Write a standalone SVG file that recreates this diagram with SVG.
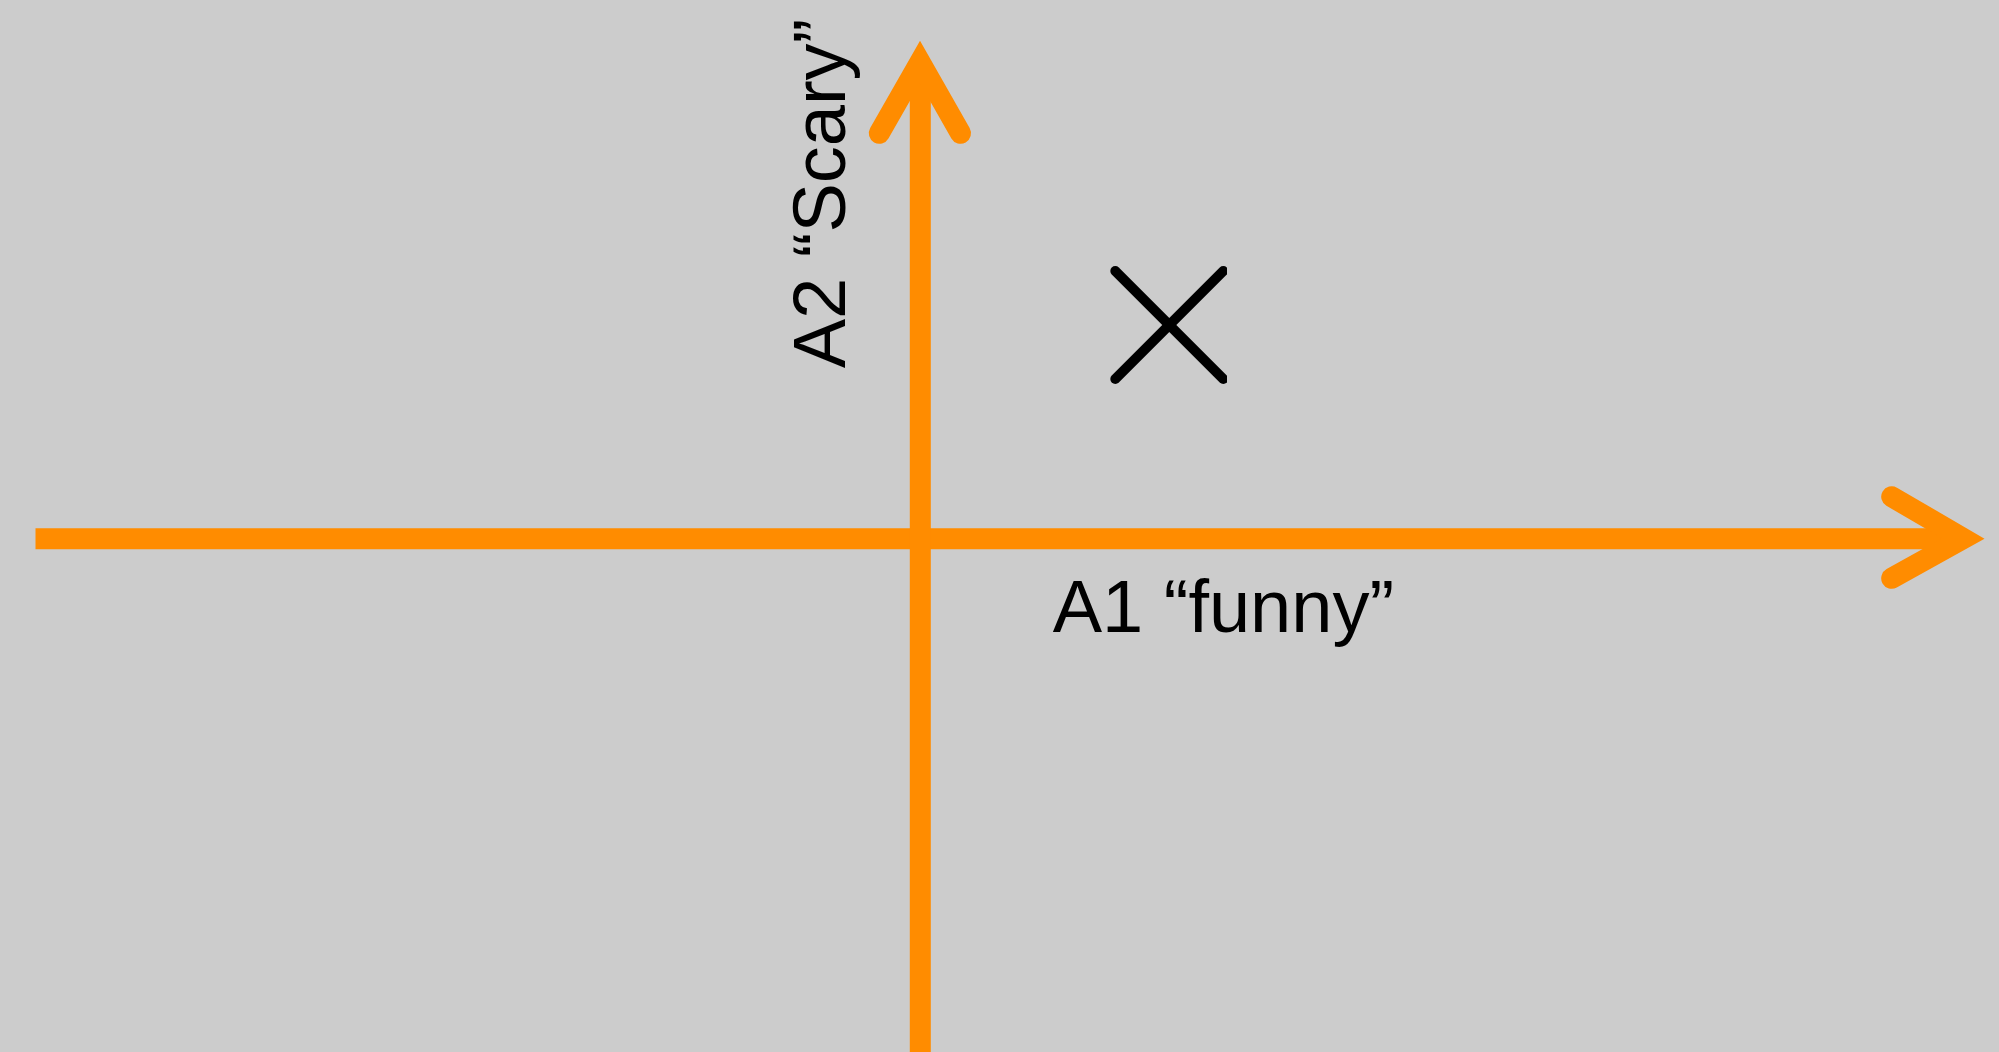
<svg xmlns="http://www.w3.org/2000/svg" width="1999" height="1052" viewBox="0 0 1999 1052">
<style>
.axis{stroke:#ff8c00;stroke-width:21;fill:none}
.head{stroke:#ff8c00;stroke-width:21;fill:none;stroke-linecap:round;stroke-linejoin:miter;stroke-miterlimit:10}
.lbl{font-family:"Liberation Sans",Arial,sans-serif;fill:#000;font-size:74px}
.mark{stroke:#000;stroke-width:10;stroke-linecap:round;fill:none}
</style>
<defs><clipPath id="clipX"><rect x="1100" y="250" width="127" height="150"/></clipPath></defs>
<rect width="1999" height="1052" fill="#cccccc"/>
<g id="connectors">
<line class="axis" x1="35.5" y1="538.7" x2="1963" y2="538.7"/>
<polyline class="head" points="1891.7,496.7 1963.3,538.5 1891.7,578.3"/>
<line class="axis" x1="920.3" y1="1052" x2="920.3" y2="62"/>
<polyline class="head" points="879.3,133.3 920,62 960.5,133.3"/>
</g>
<g id="x-axis-label"><text class="lbl" x="1052.7" y="631.7">A1 “funny”</text></g>
<g id="y-axis-label"><text class="lbl" transform="translate(845,368.3) rotate(-90)">A2 “Scary”</text></g>
<g id="point" clip-path="url(#clipX)">
<line class="mark" x1="1115.3" y1="271" x2="1223.3" y2="379"/>
<line class="mark" x1="1115.3" y1="379" x2="1223.3" y2="271"/>
</g>
</svg>
